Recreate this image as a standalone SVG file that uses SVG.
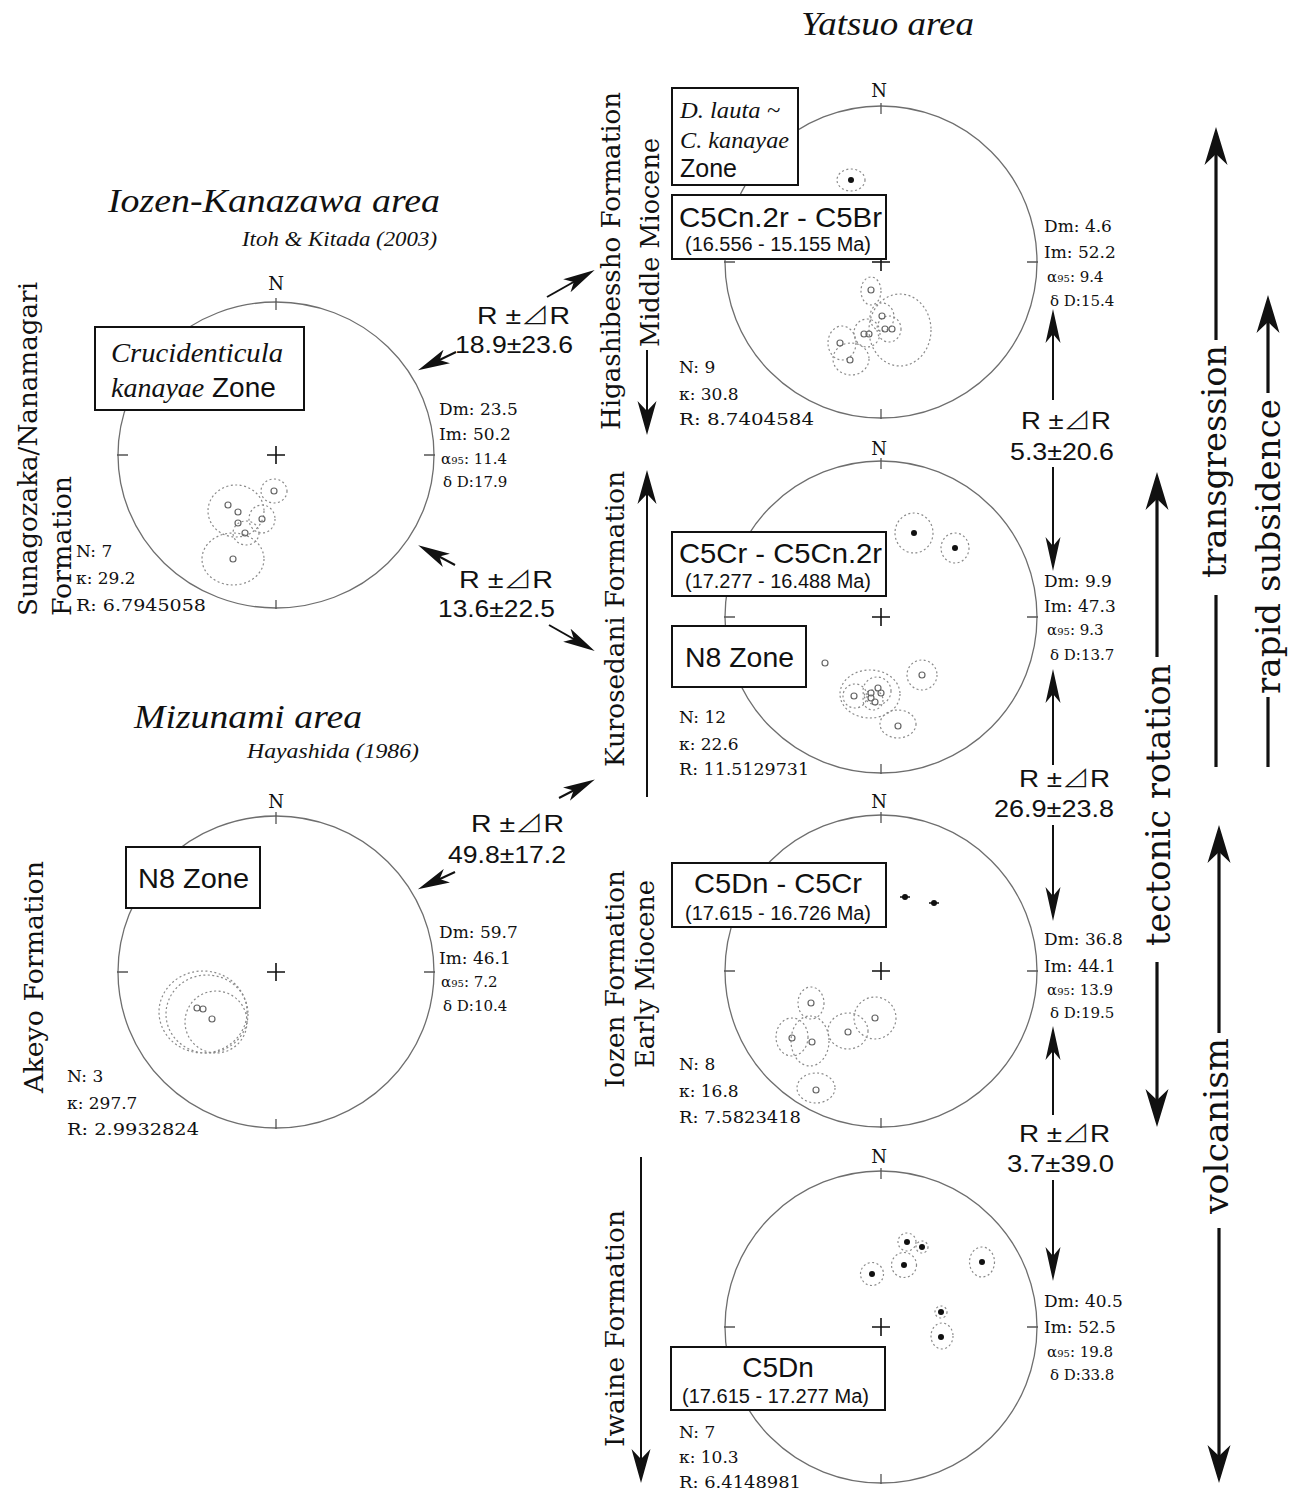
<svg xmlns="http://www.w3.org/2000/svg" width="1292" height="1494" viewBox="0 0 1292 1494">
<style>
.net{fill:none;stroke:#6e6e6e;stroke-width:1.3}
.tick{fill:none;stroke:#555;stroke-width:1.3}
.cross{fill:none;stroke:#111;stroke-width:1.6}
.conf{fill:none;stroke:#8a8a8a;stroke-width:1.2;stroke-dasharray:2 2.5}
.open{fill:none;stroke:#666;stroke-width:1.2}
.dot{fill:#111}
.box{fill:#fff;stroke:#111;stroke-width:2}
.stat{font-family:"DejaVu Serif","Liberation Serif",serif;font-size:17px;fill:#111}
.s2{font-size:15px}
.nl{font-family:"DejaVu Serif","Liberation Serif",serif;font-size:18px;fill:#111;text-anchor:middle}
.sans{font-family:"Liberation Sans","DejaVu Sans","Noto Sans CJK JP",sans-serif;fill:#111}
.rr{font-family:"Liberation Sans","DejaVu Sans","Noto Sans CJK JP",sans-serif;font-size:24px;fill:#111}
.tri{font-family:"Noto Sans CJK JP","DejaVu Sans",sans-serif;font-weight:300}
.ital{font-family:"Liberation Serif",serif;font-style:italic;fill:#111}
.rot{font-family:"DejaVu Serif","Liberation Serif",serif;font-size:26px;fill:#111}
.big{font-family:"DejaVu Serif","Liberation Serif",serif;font-size:34px;fill:#111}
.a2{fill:none;stroke:#111;stroke-width:2}
.a3{fill:none;stroke:#111;stroke-width:3.2}
</style>
<defs>
<marker id="hd" markerUnits="userSpaceOnUse" viewBox="0 0 32 16" markerWidth="32" markerHeight="16" refX="22" refY="8" orient="auto"><path d="M0,0.5 L32,8 L0,15.5 L8,8 Z" fill="#111"/></marker>
<marker id="hv" markerUnits="userSpaceOnUse" viewBox="0 0 34 16" markerWidth="34" markerHeight="16" refX="25" refY="8" orient="auto"><path d="M0,0.5 L34,8 L0,15.5 L9,8 Z" fill="#111"/></marker>
<marker id="hf" markerUnits="userSpaceOnUse" viewBox="0 0 34 20" markerWidth="34" markerHeight="20" refX="26" refY="10" orient="auto"><path d="M0,0.5 L34,10 L0,19.5 L10,10 Z" fill="#111"/></marker>
<marker id="hb" markerUnits="userSpaceOnUse" viewBox="0 0 38 24" markerWidth="38" markerHeight="24" refX="28" refY="12" orient="auto"><path d="M0,0.5 L38,12 L0,23.5 L11,12 Z" fill="#111"/></marker>
</defs>
<rect width="1292" height="1494" fill="#fff"/>

<!-- Titles -->
<text class="ital" x="108" y="212" font-size="34" textLength="332" lengthAdjust="spacingAndGlyphs">Iozen-Kanazawa area</text>
<text class="ital" x="242" y="246" font-size="20" textLength="195" lengthAdjust="spacingAndGlyphs">Itoh &amp; Kitada (2003)</text>
<text class="ital" x="134" y="728" font-size="34" textLength="228" lengthAdjust="spacingAndGlyphs">Mizunami area</text>
<text class="ital" x="247" y="758" font-size="20" textLength="172" lengthAdjust="spacingAndGlyphs">Hayashida (1986)</text>
<text class="ital" x="801" y="35" font-size="34" textLength="173" lengthAdjust="spacingAndGlyphs">Yatsuo area</text>

<!-- Stereonet A: Iozen-Kanazawa -->
<g id="net-iozen-kanazawa">
<ellipse class="net" cx="276" cy="455" rx="158" ry="153"/>
<path class="tick" d="M276,298 V310 M276,600 V609 M117,455 H128 M424,455 H435"/>
<path class="cross" d="M267,455 H285 M276,446 V464"/>
<text class="nl" x="276" y="290">N</text>
<ellipse class="conf" cx="274" cy="491" rx="13" ry="12"/>
<ellipse class="conf" cx="236" cy="511" rx="28" ry="26"/>
<ellipse class="conf" cx="262" cy="519" rx="13" ry="14"/>
<ellipse class="conf" cx="246" cy="533" rx="13" ry="12"/>
<ellipse class="conf" cx="233" cy="559" rx="31" ry="26"/>
<circle class="open" cx="274" cy="491" r="3"/>
<circle class="open" cx="228" cy="505" r="3"/>
<circle class="open" cx="238" cy="512" r="3"/>
<circle class="open" cx="238" cy="523" r="3"/>
<circle class="open" cx="262" cy="519" r="3"/>
<circle class="open" cx="245" cy="533" r="3"/>
<circle class="open" cx="233" cy="559" r="3"/>
<rect class="box" x="95" y="327" width="209" height="83"/>
<text class="ital" x="111" y="362" font-size="28" textLength="172" lengthAdjust="spacingAndGlyphs">Crucidenticula</text>
<text class="ital" x="111" y="397" font-size="28">kanayae</text>
<text class="sans" x="212" y="397" font-size="28">Zone</text>
<text class="stat" x="439" y="415">Dm: 23.5</text>
<text class="stat" x="439" y="440">Im: 50.2</text>
<text class="stat s2" x="441" y="464">α<tspan font-size="10">95</tspan>: 11.4</text>
<text class="stat s2" x="443" y="487">δ D:17.9</text>
<text class="stat" x="76" y="557">N: 7</text>
<text class="stat" x="76" y="584">κ: 29.2</text>
<text class="stat" x="76" y="611" textLength="130" lengthAdjust="spacingAndGlyphs">R: 6.7945058</text>
<text class="rot" transform="translate(37,616) rotate(-90)" textLength="334" lengthAdjust="spacingAndGlyphs">Sunagozaka/Nanamagari</text>
<text class="rot" transform="translate(71,616) rotate(-90)" textLength="140" lengthAdjust="spacingAndGlyphs">Formation</text>
</g>

<!-- Stereonet B: Mizunami -->
<g id="net-mizunami">
<ellipse class="net" cx="276" cy="972" rx="158" ry="156"/>
<path class="tick" d="M276,812 V824 M276,1119 V1129 M117,972 H128 M424,972 H435"/>
<path class="cross" d="M267,972 H285 M276,963 V981"/>
<text class="nl" x="276" y="808">N</text>
<ellipse class="conf" cx="203" cy="1012" rx="44" ry="41"/>
<ellipse class="conf" cx="207" cy="1014" rx="41" ry="39"/>
<ellipse class="conf" cx="216" cy="1022" rx="31" ry="31"/>
<circle class="open" cx="197" cy="1008" r="3"/>
<circle class="open" cx="203" cy="1009" r="3"/>
<circle class="open" cx="212" cy="1019" r="3"/>
<rect class="box" x="126" y="847" width="134" height="61"/>
<text class="sans" x="138" y="888" font-size="28" textLength="111" lengthAdjust="spacingAndGlyphs">N8 Zone</text>
<text class="stat" x="439" y="938">Dm: 59.7</text>
<text class="stat" x="439" y="964">Im: 46.1</text>
<text class="stat s2" x="441" y="987">α<tspan font-size="10">95</tspan>: 7.2</text>
<text class="stat s2" x="443" y="1011">δ D:10.4</text>
<text class="stat" x="67" y="1082">N: 3</text>
<text class="stat" x="67" y="1109">κ: 297.7</text>
<text class="stat" x="67" y="1135" textLength="132" lengthAdjust="spacingAndGlyphs">R: 2.9932824</text>
<text class="rot" transform="translate(43,1093) rotate(-90)" textLength="232" lengthAdjust="spacingAndGlyphs">Akeyo Formation</text>
</g>

<!-- Stereonet R1: Higashibessho -->
<g id="net-higashibessho">
<circle class="net" cx="881" cy="262" r="156"/>
<path class="tick" d="M881,103 V114 M881,409 V419 M724,262 H735 M1027,262 H1038"/>
<path class="cross" d="M872,262 H890 M881,253 V271"/>
<text class="nl" x="879" y="97">N</text>
<ellipse class="conf" cx="851" cy="180" rx="14" ry="11"/>
<circle class="dot" cx="851" cy="180" r="3"/>
<ellipse class="conf" cx="871" cy="291" rx="10" ry="14"/>
<ellipse class="conf" cx="900" cy="330" rx="31" ry="36"/>
<ellipse class="conf" cx="882" cy="317" rx="12" ry="14"/>
<ellipse class="conf" cx="867" cy="333" rx="13" ry="14"/>
<ellipse class="conf" cx="889" cy="329" rx="12" ry="13"/>
<ellipse class="conf" cx="842" cy="343" rx="14" ry="17"/>
<ellipse class="conf" cx="851" cy="359" rx="18" ry="16"/>
<circle class="open" cx="871" cy="290" r="3"/>
<circle class="open" cx="882" cy="316" r="3"/>
<circle class="open" cx="864" cy="334" r="3"/>
<circle class="open" cx="869" cy="334" r="3"/>
<circle class="open" cx="885" cy="329" r="3"/>
<circle class="open" cx="892" cy="329" r="3"/>
<circle class="open" cx="840" cy="343" r="3"/>
<circle class="open" cx="850" cy="360" r="3"/>
<rect class="box" x="672" y="88" width="126" height="97"/>
<text class="ital" x="680" y="118" font-size="23" textLength="100" lengthAdjust="spacingAndGlyphs">D. lauta ~</text>
<text class="ital" x="680" y="148" font-size="23" textLength="109" lengthAdjust="spacingAndGlyphs">C. kanayae</text>
<text class="sans" x="680" y="177" font-size="25" textLength="57" lengthAdjust="spacingAndGlyphs">Zone</text>
<rect class="box" x="672" y="195" width="214" height="64"/>
<text class="sans" x="679" y="227" font-size="28" textLength="203" lengthAdjust="spacingAndGlyphs">C5Cn.2r - C5Br</text>
<text class="sans" x="685" y="251" font-size="20" textLength="186" lengthAdjust="spacingAndGlyphs">(16.556 - 15.155 Ma)</text>
<text class="stat" x="1044" y="232">Dm: 4.6</text>
<text class="stat" x="1044" y="258">Im: 52.2</text>
<text class="stat s2" x="1047" y="282">α<tspan font-size="10">95</tspan>: 9.4</text>
<text class="stat s2" x="1050" y="306">δ D:15.4</text>
<text class="stat" x="679" y="373">N: 9</text>
<text class="stat" x="679" y="400">κ: 30.8</text>
<text class="stat" x="679" y="425" textLength="135" lengthAdjust="spacingAndGlyphs">R: 8.7404584</text>
<text class="rot" transform="translate(620,430) rotate(-90)" textLength="338" lengthAdjust="spacingAndGlyphs">Higashibessho Formation</text>
<text class="rot" transform="translate(659,347) rotate(-90)" textLength="209" lengthAdjust="spacingAndGlyphs">Middle Miocene</text>
</g>

<!-- Stereonet R2: Kurosedani -->
<g id="net-kurosedani">
<circle class="net" cx="881" cy="617" r="156"/>
<path class="tick" d="M881,458 V469 M881,764 V774 M724,617 H735 M1027,617 H1038"/>
<path class="cross" d="M872,617 H890 M881,608 V626"/>
<text class="nl" x="879" y="455">N</text>
<ellipse class="conf" cx="914" cy="533" rx="19" ry="20"/>
<ellipse class="conf" cx="955" cy="548" rx="14" ry="15"/>
<circle class="dot" cx="914" cy="533" r="3"/>
<circle class="dot" cx="955" cy="548" r="3"/>
<circle class="open" cx="825" cy="663" r="3"/>
<ellipse class="conf" cx="922" cy="675" rx="15" ry="15"/>
<ellipse class="conf" cx="898" cy="724" rx="18" ry="14"/>
<ellipse class="conf" cx="870" cy="694" rx="30" ry="24"/>
<ellipse class="conf" cx="855" cy="696" rx="12" ry="12"/>
<ellipse class="conf" cx="877" cy="691" rx="14" ry="14"/>
<ellipse class="conf" cx="873" cy="700" rx="10" ry="10"/>
<circle class="open" cx="922" cy="675" r="3"/>
<circle class="open" cx="898" cy="726" r="3"/>
<circle class="open" cx="854" cy="696" r="3"/>
<circle class="open" cx="871" cy="693" r="3"/>
<circle class="open" cx="878" cy="688" r="3"/>
<circle class="open" cx="881" cy="693" r="3"/>
<circle class="open" cx="875" cy="702" r="3"/>
<circle class="open" cx="871" cy="698" r="3"/>
<rect class="box" x="672" y="532" width="214" height="64"/>
<text class="sans" x="679" y="563" font-size="28" textLength="203" lengthAdjust="spacingAndGlyphs">C5Cr - C5Cn.2r</text>
<text class="sans" x="685" y="588" font-size="20" textLength="186" lengthAdjust="spacingAndGlyphs">(17.277 - 16.488 Ma)</text>
<rect class="box" x="672" y="626" width="134" height="61"/>
<text class="sans" x="685" y="667" font-size="28" textLength="109" lengthAdjust="spacingAndGlyphs">N8 Zone</text>
<text class="stat" x="1044" y="587">Dm: 9.9</text>
<text class="stat" x="1044" y="612">Im: 47.3</text>
<text class="stat s2" x="1047" y="635">α<tspan font-size="10">95</tspan>: 9.3</text>
<text class="stat s2" x="1050" y="660">δ D:13.7</text>
<text class="stat" x="679" y="723">N: 12</text>
<text class="stat" x="679" y="750">κ: 22.6</text>
<text class="stat" x="679" y="775" textLength="130" lengthAdjust="spacingAndGlyphs">R: 11.5129731</text>
<text class="rot" transform="translate(624,767) rotate(-90)" textLength="296" lengthAdjust="spacingAndGlyphs">Kurosedani Formation</text>
</g>

<!-- Stereonet R3: Iozen -->
<g id="net-iozen">
<circle class="net" cx="881" cy="971" r="156"/>
<path class="tick" d="M881,812 V823 M881,1118 V1128 M724,971 H735 M1027,971 H1038"/>
<path class="cross" d="M872,971 H890 M881,962 V980"/>
<text class="nl" x="879" y="808">N</text>
<circle class="dot" cx="905" cy="897" r="3"/>
<circle class="dot" cx="934" cy="903" r="3"/>
<path class="cross" d="M900,897 H910 M929,903 H939" stroke-width="1.2"/>
<ellipse class="conf" cx="811" cy="1003" rx="13" ry="16"/>
<ellipse class="conf" cx="875" cy="1018" rx="21" ry="21"/>
<ellipse class="conf" cx="848" cy="1031" rx="20" ry="18"/>
<ellipse class="conf" cx="792" cy="1037" rx="16" ry="19"/>
<ellipse class="conf" cx="810" cy="1041" rx="19" ry="25"/>
<ellipse class="conf" cx="816" cy="1088" rx="19" ry="15"/>
<circle class="open" cx="811" cy="1003" r="3"/>
<circle class="open" cx="875" cy="1018" r="3"/>
<circle class="open" cx="848" cy="1032" r="3"/>
<circle class="open" cx="792" cy="1038" r="3"/>
<circle class="open" cx="812" cy="1042" r="3"/>
<circle class="open" cx="816" cy="1090" r="3"/>
<rect class="box" x="672" y="863" width="214" height="64"/>
<text class="sans" x="694" y="893" font-size="28" textLength="168" lengthAdjust="spacingAndGlyphs">C5Dn - C5Cr</text>
<text class="sans" x="685" y="920" font-size="20" textLength="186" lengthAdjust="spacingAndGlyphs">(17.615 - 16.726 Ma)</text>
<text class="stat" x="1044" y="945">Dm: 36.8</text>
<text class="stat" x="1044" y="972">Im: 44.1</text>
<text class="stat s2" x="1047" y="995">α<tspan font-size="10">95</tspan>: 13.9</text>
<text class="stat s2" x="1050" y="1018">δ D:19.5</text>
<text class="stat" x="679" y="1070">N: 8</text>
<text class="stat" x="679" y="1097">κ: 16.8</text>
<text class="stat" x="679" y="1123" textLength="122" lengthAdjust="spacingAndGlyphs">R: 7.5823418</text>
<text class="rot" transform="translate(624,1088) rotate(-90)" textLength="218" lengthAdjust="spacingAndGlyphs">Iozen Formation</text>
<text class="rot" transform="translate(654,1068) rotate(-90)" textLength="188" lengthAdjust="spacingAndGlyphs">Early Miocene</text>
</g>

<!-- Stereonet R4: Iwaine -->
<g id="net-iwaine">
<circle class="net" cx="881" cy="1327" r="156"/>
<path class="tick" d="M881,1168 V1179 M881,1474 V1484 M724,1327 H735 M1027,1327 H1038"/>
<path class="cross" d="M872,1327 H890 M881,1318 V1336"/>
<text class="nl" x="879" y="1163">N</text>
<ellipse class="conf" cx="907" cy="1242" rx="9" ry="9"/>
<ellipse class="conf" cx="922" cy="1247" rx="6" ry="6"/>
<ellipse class="conf" cx="904" cy="1265" rx="12.5" ry="12.5"/>
<ellipse class="conf" cx="872" cy="1274" rx="11.5" ry="11.5"/>
<ellipse class="conf" cx="982" cy="1262" rx="12.5" ry="15"/>
<ellipse class="conf" cx="941" cy="1312" rx="6" ry="6"/>
<ellipse class="conf" cx="942" cy="1336" rx="11" ry="13"/>
<circle class="dot" cx="907" cy="1242" r="3"/>
<circle class="dot" cx="922" cy="1247" r="3"/>
<circle class="dot" cx="904" cy="1265" r="3"/>
<circle class="dot" cx="872" cy="1274" r="3"/>
<circle class="dot" cx="982" cy="1262" r="3"/>
<circle class="dot" cx="941" cy="1312" r="3"/>
<circle class="dot" cx="941" cy="1337" r="3"/>
<rect class="box" x="671" y="1347" width="214" height="63"/>
<text class="sans" x="778" y="1377" font-size="28" text-anchor="middle">C5Dn</text>
<text class="sans" x="682" y="1403" font-size="20" textLength="187" lengthAdjust="spacingAndGlyphs">(17.615 - 17.277 Ma)</text>
<text class="stat" x="1044" y="1307">Dm: 40.5</text>
<text class="stat" x="1044" y="1333">Im: 52.5</text>
<text class="stat s2" x="1047" y="1357">α<tspan font-size="10">95</tspan>: 19.8</text>
<text class="stat s2" x="1050" y="1380">δ D:33.8</text>
<text class="stat" x="679" y="1438">N: 7</text>
<text class="stat" x="679" y="1463">κ: 10.3</text>
<text class="stat" x="679" y="1488" textLength="122" lengthAdjust="spacingAndGlyphs">R: 6.4148981</text>
<text class="rot" transform="translate(624,1447) rotate(-90)" textLength="237" lengthAdjust="spacingAndGlyphs">Iwaine Formation</text>
</g>

<!-- Right column process labels -->
<g id="label-transgression">
<text class="big" transform="translate(1226,578) rotate(-90)" textLength="233" lengthAdjust="spacingAndGlyphs">transgression</text>
</g>
<g id="label-rapid-subsidence">
<text class="big" transform="translate(1280,694) rotate(-90)" textLength="295" lengthAdjust="spacingAndGlyphs">rapid subsidence</text>
</g>
<g id="label-tectonic-rotation">
<text class="big" transform="translate(1170,946) rotate(-90)" textLength="282" lengthAdjust="spacingAndGlyphs">tectonic rotation</text>
</g>
<g id="label-volcanism">
<text class="big" transform="translate(1228,1214) rotate(-90)" textLength="176" lengthAdjust="spacingAndGlyphs">volcanism</text>
</g>

<!-- R ± ⊿R labels -->
<g id="rotation-labels">
<text class="rr" x="477" y="324" textLength="93" lengthAdjust="spacingAndGlyphs">R ±<tspan class="tri">⊿</tspan>R</text>
<text class="rr" x="455" y="353" textLength="118" lengthAdjust="spacingAndGlyphs">18.9±23.6</text>
<text class="rr" x="459" y="588" textLength="94" lengthAdjust="spacingAndGlyphs">R ±<tspan class="tri">⊿</tspan>R</text>
<text class="rr" x="438" y="617" textLength="117" lengthAdjust="spacingAndGlyphs">13.6±22.5</text>
<text class="rr" x="471" y="832" textLength="93" lengthAdjust="spacingAndGlyphs">R ±<tspan class="tri">⊿</tspan>R</text>
<text class="rr" x="448" y="863" textLength="118" lengthAdjust="spacingAndGlyphs">49.8±17.2</text>
<text class="rr" x="1021" y="429" textLength="90" lengthAdjust="spacingAndGlyphs">R ±<tspan class="tri">⊿</tspan>R</text>
<text class="rr" x="1010" y="460" textLength="104" lengthAdjust="spacingAndGlyphs">5.3±20.6</text>
<text class="rr" x="1019" y="787" textLength="91" lengthAdjust="spacingAndGlyphs">R ±<tspan class="tri">⊿</tspan>R</text>
<text class="rr" x="994" y="817" textLength="120" lengthAdjust="spacingAndGlyphs">26.9±23.8</text>
<text class="rr" x="1019" y="1142" textLength="91" lengthAdjust="spacingAndGlyphs">R ±<tspan class="tri">⊿</tspan>R</text>
<text class="rr" x="1007" y="1172" textLength="107" lengthAdjust="spacingAndGlyphs">3.7±39.0</text>
</g>

<!-- Connectors -->
<g id="connectors">
<line class="a2" x1="547" y1="297" x2="586" y2="275" marker-end="url(#hd)"/>
<line class="a2" x1="456" y1="352" x2="427" y2="366" marker-end="url(#hd)"/>
<line class="a2" x1="455" y1="565" x2="427" y2="550" marker-end="url(#hd)"/>
<line class="a2" x1="549" y1="625" x2="586" y2="646" marker-end="url(#hd)"/>
<line class="a2" x1="559" y1="798" x2="586" y2="784" marker-end="url(#hd)"/>
<line class="a2" x1="455" y1="872" x2="427" y2="885" marker-end="url(#hd)"/>

<line class="a2" x1="1053" y1="400" x2="1053" y2="318" marker-end="url(#hv)"/>
<line class="a2" x1="1053" y1="467" x2="1053" y2="562" marker-end="url(#hv)"/>
<line class="a2" x1="1053" y1="765" x2="1053" y2="678" marker-end="url(#hv)"/>
<line class="a2" x1="1053" y1="825" x2="1053" y2="912" marker-end="url(#hv)"/>
<line class="a2" x1="1053" y1="1115" x2="1053" y2="1035" marker-end="url(#hv)"/>
<line class="a2" x1="1053" y1="1180" x2="1053" y2="1272" marker-end="url(#hv)"/>

<line class="a2" x1="647" y1="350" x2="647" y2="427" marker-end="url(#hf)"/>
<line class="a2" x1="647" y1="797" x2="647" y2="478" marker-end="url(#hf)"/>
<line class="a2" x1="641" y1="1157" x2="641" y2="1475" marker-end="url(#hf)"/>

<line class="a3" x1="1216" y1="340" x2="1216" y2="137" marker-end="url(#hb)"/>
<line class="a3" x1="1216" y1="595" x2="1216" y2="767"/>
<line class="a3" x1="1268" y1="393" x2="1268" y2="305" marker-end="url(#hb)"/>
<line class="a3" x1="1268" y1="697" x2="1268" y2="767"/>
<line class="a3" x1="1157" y1="657" x2="1157" y2="482" marker-end="url(#hb)"/>
<line class="a3" x1="1157" y1="962" x2="1157" y2="1117" marker-end="url(#hb)"/>
<line class="a3" x1="1219" y1="1033" x2="1219" y2="835" marker-end="url(#hb)"/>
<line class="a3" x1="1219" y1="1228" x2="1219" y2="1473" marker-end="url(#hb)"/>
</g>
</svg>
